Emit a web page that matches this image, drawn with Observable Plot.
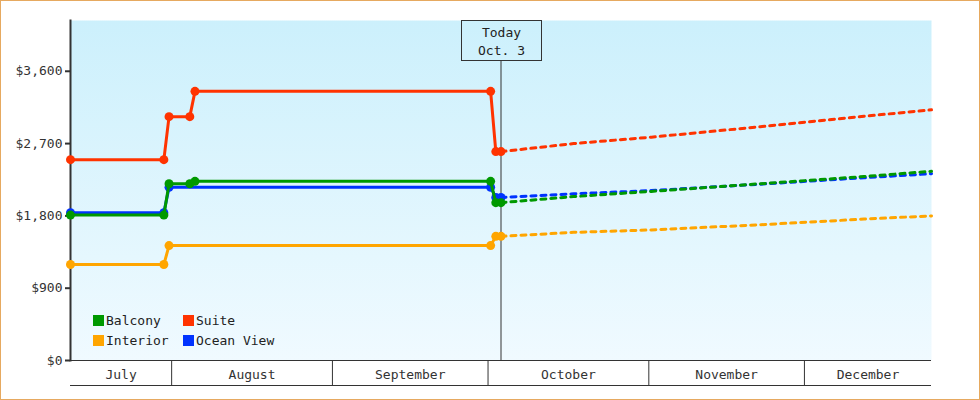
<!DOCTYPE html>
<html><head><meta charset="utf-8">
<script src="https://cdn.jsdelivr.net/npm/d3@7"></script>
<script src="https://cdn.jsdelivr.net/npm/@observablehq/plot@0.6"></script>
<style>
body{margin:0;background:#fff;}
#wrap{position:relative;width:980px;height:400px;font-family:"DejaVu Sans Mono",monospace;}
#legend{position:absolute;left:93px;top:310.5px;display:grid;grid-template-columns:90px auto;grid-auto-rows:20px;font-size:13px;color:#222;}
#legend .it{display:flex;align-items:center;height:20px;line-height:20px;white-space:nowrap;}
#legend .sw{width:11px;height:11px;margin-right:2px;flex:none;}
</style>
</head><body>
<div id="wrap"><div id="legend"></div></div>
<script>
// ---- data ----
const seriesNames = ["Balcony", "Suite", "Interior", "Ocean View"];
const seriesColors = ["#009900", "#ff3300", "#ffa500", "#0033ff"];

const balconyDates = ["2023-07-12","2023-07-30","2023-07-31","2023-08-04","2023-08-05","2023-10-01","2023-10-02","2023-10-03"];
const balconyPrices = [1810, 1810, 2200, 2200, 2230, 2230, 1965, 1965];
const suiteDates = ["2023-07-12","2023-07-30","2023-07-31","2023-08-04","2023-08-05","2023-10-01","2023-10-02","2023-10-03"];
const suitePrices = [2500, 2500, 3035, 3035, 3350, 3350, 2600, 2600];
const interiorDates = ["2023-07-12","2023-07-30","2023-07-31","2023-10-01","2023-10-02","2023-10-03"];
const interiorPrices = [1195, 1195, 1430, 1430, 1545, 1545];
const oceanDates = ["2023-07-12","2023-07-30","2023-07-31","2023-10-01","2023-10-02","2023-10-03"];
const oceanPrices = [1840, 1840, 2155, 2155, 2030, 2030];

const forecastDates = ["2023-10-03","2023-10-17","2023-11-01","2023-11-22","2023-12-12","2023-12-25"];
const balconyForecast = [1965, 2040, 2105, 2200, 2290, 2355];
const suiteForecast = [2600, 2700, 2780, 2910, 3040, 3120];
const interiorForecast = [1545, 1595, 1625, 1690, 1760, 1800];
const oceanForecast = [2030, 2075, 2115, 2195, 2275, 2325];

const yTicks = [0, 900, 1800, 2700, 3600];
const monthNames = ["July", "August", "September", "October", "November", "December"];
const monthStartDates = ["2023-07-01","2023-08-01","2023-09-01","2023-10-01","2023-11-01","2023-12-01","2024-01-01"];
const domainStart = "2023-07-12", domainEnd = "2023-12-25";
const yMax = 4232;
const todayDate = "2023-10-03";
const todayLabel = ["Today", "Oct. 3"];

// ---- build ----
const D = s => new Date(s + "T12:00:00Z");
const M = s => new Date(s + "T00:00:00Z");
const mk = (dates, vals) => dates.map((d, i) => ({date: D(d), value: vals[i]}));
const hist = [mk(balconyDates, balconyPrices), mk(suiteDates, suitePrices), mk(interiorDates, interiorPrices), mk(oceanDates, oceanPrices)];
const fc = [balconyForecast, suiteForecast, interiorForecast, oceanForecast].map(v => mk(forecastDates, v));
const x0 = D(domainStart), x1 = D(domainEnd);
const mStarts = monthStartDates.map(M);
const innerStarts = mStarts.filter(d => d > x0 && d < x1);
const mids = monthNames.map((n, i) => {
  const a = Math.max(+mStarts[i], +x0), b = Math.min(+mStarts[i + 1], +x1);
  return new Date((a + b) / 2);
});
const today = D(todayDate);

const order = [3, 2, 0, 1]; // draw order: Ocean View, Interior, Balcony, Suite
const seriesMarks = [];
for (const i of order) {
  seriesMarks.push(Plot.line(fc[i], {x: "date", y: "value", stroke: seriesColors[i], strokeWidth: 3, strokeDasharray: "5,5"}));
  seriesMarks.push(Plot.line(hist[i], {x: "date", y: "value", stroke: seriesColors[i], strokeWidth: 3}));
  seriesMarks.push(Plot.dot(hist[i], {x: "date", y: "value", fill: seriesColors[i], r: 4.5}));
}

const chart = Plot.plot({
  width: 980, height: 400,
  marginLeft: 70, marginRight: 49, marginTop: 20, marginBottom: 40,
  style: {fontFamily: "DejaVu Sans Mono, monospace", fontSize: "13px", color: "#333", background: "transparent", overflow: "visible"},
  x: {type: "utc", domain: [x0, x1]},
  y: {domain: [0, yMax]},
  marks: [
    () => {
      const defs = d3.create("svg:defs");
      const g = defs.append("linearGradient").attr("id", "bgGrad").attr("x1", 0).attr("y1", 0).attr("x2", 0).attr("y2", 1);
      g.append("stop").attr("offset", "0%").attr("stop-color", "#ccf0fc");
      g.append("stop").attr("offset", "100%").attr("stop-color", "#f0faff");
      return defs.node();
    },
    Plot.frame({fill: "url(#bgGrad)", stroke: "none"}),
    Plot.axisY({ticks: yTicks, tickFormat: d => "$" + d3.format(",")(d), tickSize: 5, tickPadding: 3, strokeWidth: 2, label: null}),
    Plot.ruleY([0], {stroke: "#333"}),
    Plot.ruleY([0], {stroke: "#333", dy: 25}),
    Plot.axisX({ticks: innerStarts, tickSize: 25, tickFormat: () => "", label: null}),
    Plot.axisX({ticks: mids, tickSize: 0, tickPadding: 9, tickFormat: (d, i) => monthNames[i], label: null}),
    Plot.ruleX([today], {stroke: "#333", insetTop: 40}),
    Plot.frame({anchor: "left", stroke: "#333", strokeWidth: 2}),
    ...seriesMarks
  ]
});

const svg = d3.select(chart);
const tx = chart.scale("x").apply(today);
const yTop = chart.scale("y").apply(yMax);
const ann = svg.append("g").attr("font-family", "DejaVu Sans Mono, monospace").attr("font-size", 13).attr("fill", "#222");
ann.append("rect").attr("x", Math.round(tx) - 40 + 0.5).attr("y", yTop + 0.5).attr("width", 80).attr("height", 40)
  .attr("fill", "none").attr("stroke", "#333");
todayLabel.forEach((t, i) => ann.append("text").attr("x", Math.round(tx) + 0.5).attr("y", yTop + 17 + i * 18).attr("text-anchor", "middle").text(t));
svg.append("rect").attr("x", 0.5).attr("y", 0.5).attr("width", 979).attr("height", 399).attr("fill", "none").attr("stroke", "#e6a960");

document.getElementById("wrap").prepend(chart);

const leg = d3.select("#legend");
seriesNames.forEach((n, i) => {
  const it = leg.append("div").attr("class", "it");
  it.append("div").attr("class", "sw").style("background", seriesColors[i]);
  it.append("span").text(n);
});
</script>
</body></html>
